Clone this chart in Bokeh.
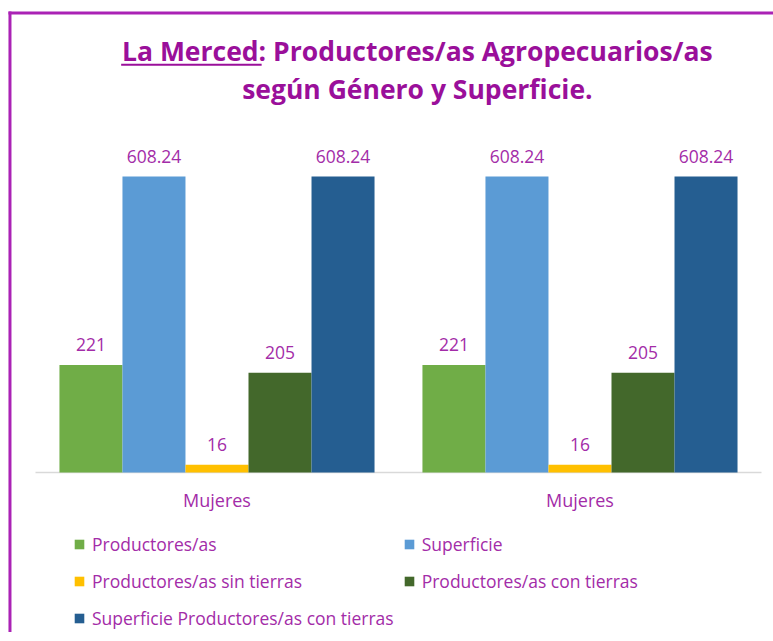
from bokeh.plotting import figure
from bokeh.models import (ColumnDataSource, Range1d, Label, Legend, LegendItem)
from bokeh.transform import dodge
from bokeh.embed import file_html
from bokeh.resources import INLINE
from bokeh.core.properties import value

# ---- data ----
groups = ["Mujeres", "Mujeres"]
series = ["Productores/as", "Superficie", "Productores/as sin tierras",
          "Productores/as con tierras", "Superficie Productores/as con tierras"]
productores = [221, 221]
superficie = [608.24, 608.24]
sin_tierras = [16, 16]
con_tierras = [205, 205]
sup_con_tierras = [608.24, 608.24]
colors = ["#70AD47", "#5B9BD5", "#FFC000", "#43682B", "#255E91"]
values = [productores, superficie, sin_tierras, con_tierras, sup_con_tierras]

title_line1 = "La Merced: Productores/as Agropecuarios/as"
title_line2 = "según Género y Superficie."

PURPLE_T = "#9A0F9A"
PURPLE = "#A32CA8"
BORDER = "#AA22B5"
FONT = "Open Sans"

xpos = [i + 0.5 for i in range(len(groups))]
bw = 0.1736
X0, X1 = -0.0964, 2.0331
Y0, Y1 = -328.8, 969.9

p = figure(width=773, height=632, output_backend="svg", toolbar_location=None,
           x_range=Range1d(X0, X1), y_range=Range1d(Y0, Y1),
           min_border_left=0, min_border_right=0, min_border_top=0, min_border_bottom=0)
p.outline_line_color = None
p.grid.visible = False
p.xaxis.visible = False
p.yaxis.visible = False

# chart-area frame (left and top edges, the rest is cut off in the original)
bx, by = -0.0703, 944.2
p.segment(x0=[bx, bx], y0=[Y0, by], x1=[bx, X1], y1=[by, by],
          line_color=BORDER, line_width=3, line_cap="square")

# category baseline
p.segment(x0=[0], y0=[0], x1=[len(groups)], y1=[0], line_color="#D9D9D9", line_width=1.5)

items = []
for k, (name, vals, col) in enumerate(zip(series, values, colors)):
    src = ColumnDataSource(dict(x=xpos, top=vals, lab=[("%g" % v) for v in vals]))
    off = (k - 2) * bw
    r = p.vbar(x=dodge("x", off), top="top", width=bw, bottom=0, source=src,
               fill_color=col, line_color=None)
    p.text(x=dodge("x", off), y="top", text="lab", source=src, text_align="center",
           text_baseline="alphabetic", y_offset=-20, text_color=PURPLE,
           text_font=value(FONT), text_font_size="17.5px")
    items.append(LegendItem(label=name, renderers=[r]))

# category labels under the baseline
gsrc = ColumnDataSource(dict(x=xpos, y=[0] * len(xpos), g=groups))
p.text(x="x", y="y", text="g", source=gsrc, text_align="center", text_baseline="alphabetic",
       y_offset=28, text_color=PURPLE, text_font=value(FONT), text_font_size="18px")

# title drawn inside the plot area
p.add_layout(Label(x=1.052, y=867, text=title_line1, text_align="center", text_baseline="middle",
                   text_font=FONT, text_font_size="26.5px", text_font_style="bold",
                   text_color=PURPLE_T))
p.add_layout(Label(x=1.052, y=789, text=title_line2, text_align="center", text_baseline="middle",
                   text_font=FONT, text_font_size="26.5px", text_font_style="bold",
                   text_color=PURPLE_T))
p.segment(x0=[0.236], y0=[838], x1=[0.623], y1=[838], line_color=PURPLE_T, line_width=2)

legend = Legend(items=items, orientation="horizontal", ncols=2, location=(73, 0),
                glyph_width=12, glyph_height=12, label_standoff=7, spacing=9,
                label_text_font=FONT, label_text_font_size="17.5px", label_text_color=PURPLE,
                label_height=28, margin=0, padding=0, border_line_color=None,
                background_fill_alpha=0)
p.add_layout(legend)

open("out.html", "w").write(file_html(p, INLINE))
